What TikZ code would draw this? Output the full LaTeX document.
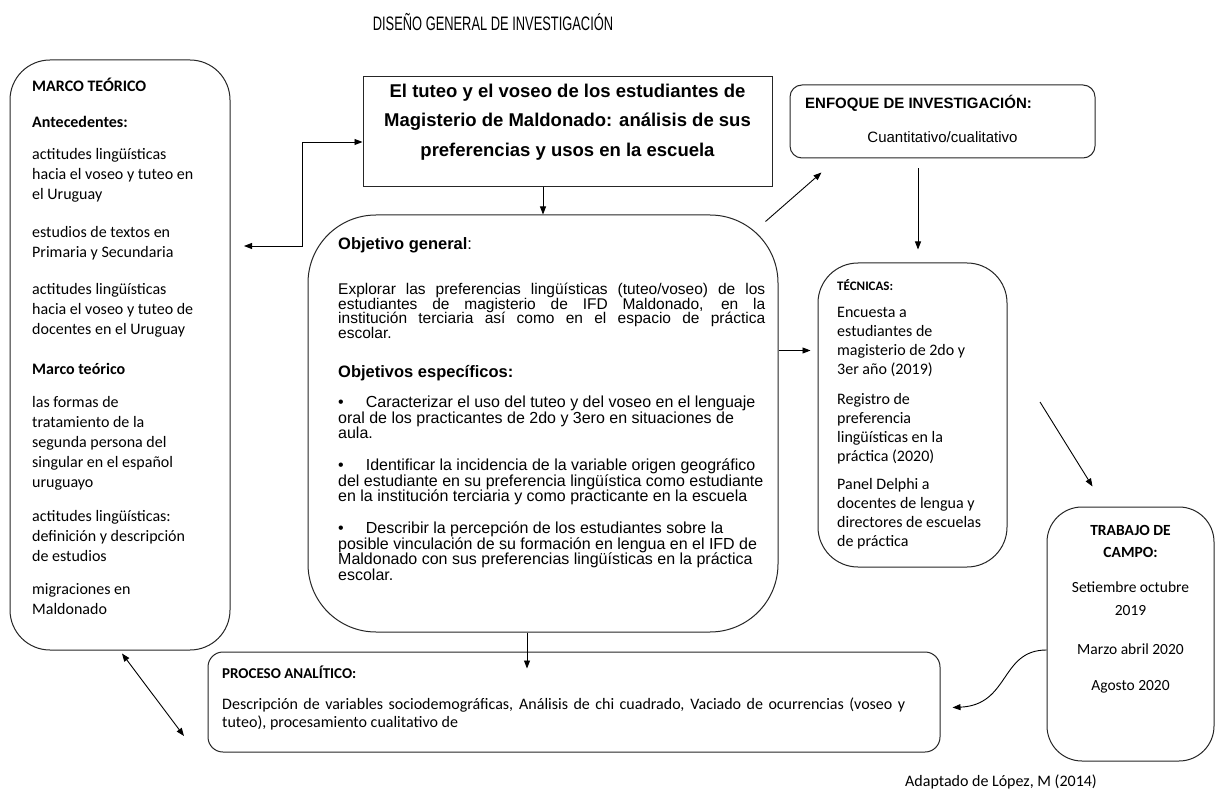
\documentclass[tikz,border=0pt]{standalone}
\usepackage{fontspec}
\usepackage{graphicx}
\setmainfont{Carlito}
\newfontfamily\arialfont{Liberation Sans}
\usetikzlibrary{arrows.meta}
\newcommand{\tamano}[2]{\fontsize{#1}{#2}\selectfont\lineskiplimit=-50pt\relax}

\begin{document}
\begin{tikzpicture}[x=1pt,y=-1pt,
  caja/.style={draw=black!85,line width=1pt,inner sep=0pt},
  txt/.style={inner sep=0pt,anchor=north west,align=left},
  txtc/.style={inner sep=0pt,anchor=north,align=center},
  flecha/.style={-{Triangle[length=8pt,width=6pt]},line width=0.9pt},
  dobleflecha/.style={{Triangle[length=8pt,width=6pt]}-{Triangle[length=8pt,width=6pt]},line width=0.9pt}]
\useasboundingbox[fill=white] (0,0) rectangle (1225,799);

\node[font=\arialfont\tamano{19.5}{22}] (titulo) at (493,22) {\scalebox{0.66}[1]{DISEÑO GENERAL DE INVESTIGACIÓN}};

\node[caja,rounded corners=40pt,minimum width=220pt,minimum height=590pt] (marco) at (120,355) {};
\node[caja,minimum width=409pt,minimum height=110pt] (tema) at (567.5,132) {};
\node[caja,rounded corners=12pt,minimum width=305pt,minimum height=73pt] (enfoque) at (942.5,121.5) {};
\node[caja,rounded corners=68pt,minimum width=470pt,minimum height=417pt] (objetivo) at (543,423.5) {};
\node[caja,rounded corners=40pt,minimum width=189pt,minimum height=304pt] (tecnicas) at (912.5,415) {};
\node[caja,rounded corners=35pt,minimum width=167pt,minimum height=254pt] (campo) at (1130.5,634) {};
\node[caja,rounded corners=15pt,minimum width=732pt,minimum height=100pt] (proceso) at (574,702) {};

\node[txt,font=\tamano{16}{20}] (m1) at (32,77) {\strut\textbf{MARCO TEÓRICO}};
\node[txt,font=\tamano{16}{20}] (m2) at (32,113) {\strut\textbf{Antecedentes:}};
\node[txt,font=\tamano{16}{20}] (m3) at (32,145) {\strut actitudes lingüísticas\\hacia el voseo y tuteo en\\el Uruguay};
\node[txt,font=\tamano{16}{20}] (m4) at (32,223) {\strut estudios de textos en\\Primaria y Secundaria};
\node[txt,font=\tamano{16}{20}] (m5) at (32,280) {\strut actitudes lingüísticas\\hacia el voseo y tuteo de\\docentes en el Uruguay};
\node[txt,font=\tamano{16}{20}] (m6) at (32,360) {\strut\textbf{Marco teórico}};
\node[txt,font=\tamano{16}{20}] (m7) at (32,393) {\strut las formas de\\tratamiento de la\\segunda persona del\\singular en el español\\uruguayo};
\node[txt,font=\tamano{16}{20}] (m8) at (32,507) {\strut actitudes lingüísticas:\\definición y descripción\\de estudios};
\node[txt,font=\tamano{16}{20}] (m9) at (32,580) {\strut migraciones en\\Maldonado};

\node[font=\arialfont\bfseries\tamano{18.5}{29.5},align=center] (tematxt) at (567.5,122) {El tuteo y el voseo de los estudiantes de\\Magisterio de Maldonado: análisis de sus\\preferencias y usos en la escuela};

\node[inner sep=0pt,anchor=west,font=\arialfont\bfseries\tamano{15}{18}] (enfoquetit) at (805,103) {ENFOQUE DE INVESTIGACIÓN:};
\node[font=\arialfont\tamano{15}{18}] (enfoquetxt) at (942.5,137) {Cuantitativo/cualitativo};

\node[txt,font=\arialfont\tamano{16.5}{19}] (o1) at (338,236) {\strut\textbf{Objetivo general}:};
\node[txt,font=\arialfont\tamano{15.5}{14.5}] (o2) at (338,283) [text width=427pt,align=justify] {\noindent\strut Explorar las preferencias lingüísticas (tuteo/voseo) de los\linebreak estudiantes de magisterio de IFD Maldonado, en la\linebreak institución terciaria así como en el espacio de práctica\linebreak escolar.};
\node[txt,font=\arialfont\tamano{16.5}{19}] (o3) at (338,364) {\strut\textbf{Objetivos específicos:}};
\node[txt,font=\arialfont\tamano{16}{15.5}] (o4) at (338,396) {\strut\textbullet\hspace{22pt}Caracterizar el uso del tuteo y del voseo en el lenguaje\\oral de los practicantes de 2do y 3ero en situaciones de\\aula.};
\node[txt,font=\arialfont\tamano{16}{15.5}] (o5) at (338,459) {\strut\textbullet\hspace{22pt}Identificar la incidencia de la variable origen geográfico\\del estudiante en su preferencia lingüística como estudiante\\en la institución terciaria y como practicante en la escuela};
\node[txt,font=\arialfont\tamano{16}{15.5}] (o6) at (338,522) {\strut\textbullet\hspace{22pt}Describir la percepción de los estudiantes sobre la\\posible vinculación de su formación en lengua en el IFD de\\Maldonado con sus preferencias lingüísticas en la práctica\\escolar.};

\node[txt,font=\bfseries\tamano{13}{19}] (t1) at (837,277) {\strut TÉCNICAS:};
\node[txt,font=\tamano{16}{19}] (t2) at (837,303.5) {\strut Encuesta a\\estudiantes de\\magisterio de 2do y\\3er año (2019)};
\node[txt,font=\tamano{16}{19}] (t3) at (837,390.5) {\strut Registro de\\preferencia\\lingüísticas en la\\práctica (2020)};
\node[txt,font=\tamano{16}{19}] (t4) at (837,475.5) {\strut Panel Delphi a\\docentes de lengua y\\directores de escuelas\\de práctica};

\node[txtc,font=\bfseries\tamano{15.5}{22}] (c1) at (1130.5,520) {\strut TRABAJO DE\\CAMPO:};
\node[txtc,font=\tamano{15.5}{23}] (c2) at (1130.5,576) {\strut Setiembre octubre\\2019};
\node[txtc,font=\tamano{15.5}{22}] (c3) at (1130.5,639) {\strut Marzo abril 2020};
\node[txtc,font=\tamano{15.5}{22}] (c4) at (1130.5,675) {\strut Agosto 2020};

\node[txt,font=\bfseries\tamano{15}{18}] (p1) at (222,666) {\strut PROCESO ANALÍTICO:};
\node[txt,font=\tamano{16}{18},text width=683pt,align=justify] (p2) at (222,697) {\noindent\strut Descripción de variables sociodemográficas, Análisis de chi cuadrado, Vaciado de ocurrencias (voseo y\linebreak tuteo), procesamiento cualitativo de};

\node[font=\tamano{16}{19}] (fuente) at (1001,782) {Adaptado de López, M (2014)};

\coordinate (marcoder) at (244,246);
\coordinate (codo) at (302,142);
\coordinate (diag) at (1040,402);
\coordinate (esquina) at (184,736);

\draw[dobleflecha] (marcoder) -| (codo) -- (tema.west |- codo);
\draw[flecha] (objetivo.north |- tema.south) -- (objetivo.north);
\draw[flecha] ([xshift=-13pt,yshift=-7pt]objetivo.north east) -- ([xshift=32pt,yshift=-14pt]enfoque.south west);
\draw[flecha] ([xshift=-24.5pt,yshift=-10pt]enfoque.south) -- ([xshift=5.5pt,yshift=13pt]tecnicas.north);
\draw[flecha] ([yshift=73pt]objetivo.east) -- ++(32,0);
\draw[flecha] (diag) -- ([xshift=-38pt,yshift=20pt]campo.north);
\draw[flecha] ([yshift=-16pt]campo.west) .. controls (1000,650) and (1010,705) .. ([xshift=12pt,yshift=-5.5pt]proceso.east);
\draw[flecha] ([xshift=-16pt]objetivo.south) -- ++(0,36);
\draw[dobleflecha] ([xshift=2pt,yshift=-3pt]marco.south) -- (esquina);
\end{tikzpicture}
\end{document}
